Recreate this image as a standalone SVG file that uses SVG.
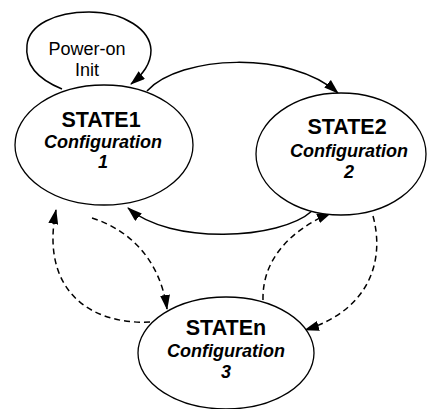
<svg xmlns="http://www.w3.org/2000/svg" width="427" height="409" viewBox="0 0 427 409">
<defs>
<marker id="ah" markerUnits="userSpaceOnUse" markerWidth="15" markerHeight="10" viewBox="0 0 15 10" refX="14" refY="5" orient="auto">
<path d="M0,0 L15,5 L0,10 Z" fill="#000"/>
</marker>
<style>
.node ellipse{fill:#fff;stroke:#000;stroke-width:1.3}
.c{fill:none;stroke:#000;stroke-width:1.5;marker-end:url(#ah)}
.d{stroke-dasharray:6,4}
.t{font-family:"Liberation Sans",Arial,sans-serif;text-anchor:middle;fill:#000}
.h{font-size:21.5px;font-weight:bold}
.s{font-size:18px;font-weight:bold;font-style:italic}
.p{font-size:18px}
</style>
</defs>
<g id="connectors">
<path class="c" d="M62,89 C35,78 25,62 27,45 C29,25 55,12 89,12 C125,12 150,30 151,50 C151,64 143,74 131,84"/>
<path class="c" d="M147,91 C180,55 290,50 338,93"/>
<path class="c" d="M312,211 C280,240 170,245 128,208"/>
<path class="c d" d="M92,218 C130,230 160,260 167,309"/>
<path class="c d" d="M150,322 C90,325 40,290 56,210"/>
<path class="c d" d="M263,300 C262,260 290,230 331,213"/>
<path class="c d" d="M373,216 C385,260 370,310 305,330"/>
</g>
<g id="power-on" class="t p">
<text x="87" y="55">Power-on</text>
<text x="87" y="76">Init</text>
</g>
<g id="state1" class="node">
<ellipse cx="104" cy="145" rx="89" ry="60"/>
<text class="t h" x="101" y="127">STATE1</text>
<text class="t s" x="103" y="148">Configuration</text>
<text class="t s" x="103" y="168">1</text>
</g>
<g id="state2" class="node">
<ellipse cx="341" cy="154" rx="85" ry="61"/>
<text class="t h" x="347" y="134">STATE2</text>
<text class="t s" x="349" y="157">Configuration</text>
<text class="t s" x="349" y="178">2</text>
</g>
<g id="staten" class="node">
<ellipse cx="226" cy="353" rx="88" ry="56"/>
<text class="t h" x="226" y="335">STATEn</text>
<text class="t s" x="226" y="357">Configuration</text>
<text class="t s" x="226" y="378">3</text>
</g>
</svg>
